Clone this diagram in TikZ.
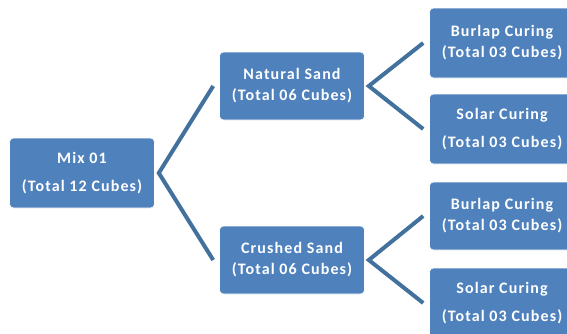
\documentclass[tikz,border=0pt]{standalone}
\usepackage{fontspec}
\setmainfont{Carlito}[LetterSpace=7]
\usepackage{xcolor}
\usepackage{tikz}
\definecolor{boxblue}{HTML}{4F81BD}
\definecolor{linkblue}{HTML}{41719C}
\tikzset{
  cubebox/.style={fill=boxblue, draw=white, line width=0.6pt, rounded corners=4pt,
    minimum width=145pt, minimum height=70pt, align=center, text=white, inner sep=1pt,
    font=\fontsize{16}{21}\selectfont\bfseries},
  link/.style={draw=linkblue, line width=4pt, line join=miter}
}

\begin{document}
\begin{tikzpicture}[x=1pt, y=-1pt]
\useasboundingbox (0,0) rectangle (567,333);
\clip (0,0) rectangle (567,333);
\node[cubebox] (mix) at (82,173) {Mix 01\\[7pt](Total 12 Cubes)};
\node[cubebox, minimum height=68pt] (nat) at (292,86) {Natural Sand\\(Total 06 Cubes)};
\node[cubebox, minimum height=68pt] (cru) at (292,260) {Crushed Sand\\(Total 06 Cubes)};
\node[cubebox] (bur1) at (502,43) {Burlap Curing\\(Total 03 Cubes)};
\node[cubebox] (sol1) at (502,129) {Solar Curing\\[7pt](Total 03 Cubes)};
\node[cubebox, minimum height=68pt] (bur2) at (502,216) {Burlap Curing\\(Total 03 Cubes)};
\node[cubebox] (sol2) at (502,303) {Solar Curing\\[7pt](Total 03 Cubes)};
% branches
\draw[link] ([xshift=-6pt]nat.west) -- ([xshift=4pt]mix.east) -- ([xshift=-6pt]cru.west);
\foreach \p/\a/\b in {nat/bur1/sol1, cru/bur2/sol2} {
  \draw[link] ([xshift=-6pt]\a.west) -- ([xshift=4pt]\p.east) -- ([xshift=-6pt]\b.west);
}
\end{tikzpicture}
\end{document}
